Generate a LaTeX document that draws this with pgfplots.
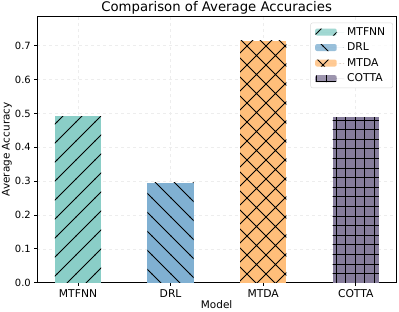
\documentclass[border=0pt]{standalone}
\usepackage{pgfplots}
\pgfplotsset{compat=1.18}
\usepackage{fontspec}
\setmainfont{DejaVu Sans}
\usetikzlibrary{patterns}

\definecolor{cA}{RGB}{138,206,199}
\definecolor{cB}{RGB}{128,176,210}
\definecolor{cC}{RGB}{255,190,122}
\definecolor{cD}{RGB}{133,124,155}

\pgfdeclarepatternformonly{hatchNE}{\pgfqpoint{-1bp}{-1bp}}{\pgfqpoint{20bp}{20bp}}{\pgfqpoint{19bp}{19bp}}{%
  \pgfsetlinewidth{0.8bp}%
  \pgfpathmoveto{\pgfqpoint{-0.5bp}{-0.5bp}}\pgfpathlineto{\pgfqpoint{19.5bp}{19.5bp}}\pgfusepath{stroke}}
\pgfdeclarepatternformonly{hatchNW}{\pgfqpoint{-1bp}{-1bp}}{\pgfqpoint{20bp}{20bp}}{\pgfqpoint{19bp}{19bp}}{%
  \pgfsetlinewidth{0.8bp}%
  \pgfpathmoveto{\pgfqpoint{-0.5bp}{19.5bp}}\pgfpathlineto{\pgfqpoint{19.5bp}{-0.5bp}}\pgfusepath{stroke}}
\pgfdeclarepatternformonly{hatchX}{\pgfqpoint{-1bp}{-1bp}}{\pgfqpoint{20bp}{20bp}}{\pgfqpoint{19bp}{19bp}}{%
  \pgfsetlinewidth{0.8bp}%
  \pgfpathmoveto{\pgfqpoint{-0.5bp}{-0.5bp}}\pgfpathlineto{\pgfqpoint{19.5bp}{19.5bp}}%
  \pgfpathmoveto{\pgfqpoint{-0.5bp}{19.5bp}}\pgfpathlineto{\pgfqpoint{19.5bp}{-0.5bp}}\pgfusepath{stroke}}
\pgfdeclarepatternformonly{hatchPlus}{\pgfqpoint{-1bp}{-1bp}}{\pgfqpoint{10.6bp}{10.6bp}}{\pgfqpoint{9.6bp}{9.6bp}}{%
  \pgfsetlinewidth{0.8bp}%
  \pgfpathmoveto{\pgfqpoint{-0.5bp}{0bp}}\pgfpathlineto{\pgfqpoint{10.1bp}{0bp}}%
  \pgfpathmoveto{\pgfqpoint{0bp}{-0.5bp}}\pgfpathlineto{\pgfqpoint{0bp}{10.1bp}}\pgfusepath{stroke}}

\begin{document}
\begin{tikzpicture}
\begin{axis}[
  at={(0,0)}, anchor=south west,
  scale only axis, width=358.7bp, height=266.7bp,
  ybar, bar width=0.5, bar shift=0pt,
  xmin=-0.44, xmax=3.435, ymin=0, ymax=0.7877,
  xtick={0,1,2,3}, xticklabels={MTFNN,DRL,MTDA,COTTA},
  ytick={0,0.1,...,0.71},
  yticklabel style={/pgf/number format/fixed,/pgf/number format/precision=1,/pgf/number format/fixed zerofill, font=\fontsize{10}{12}\selectfont},
  xticklabel style={font=\fontsize{10.8}{12}\selectfont},
  /pgf/number format/assume math mode=true,
  tick label style={text=black},
  label style={font=\fontsize{10.5}{12}\selectfont},
  every axis title shift=0pt,
  title style={font=\fontsize{13.3}{15}\selectfont, at={(axis description cs:0.5,1.03)}, anchor=center},
  title={Comparison of Average Accuracies},
  xlabel={Model}, ylabel={Average Accuracy},
  xlabel style={at={(axis description cs:0.5,-0.0836)}, anchor=center},
  ylabel style={at={(axis description cs:-0.0845,0.5)}, anchor=center, rotate=0},
  tick align=outside, xtick pos=bottom, ytick pos=left,
  major tick length=3bp,
  tick style={black, line width=0.7bp},
  axis line style={black, line width=0.7bp},
  grid=major, grid style={dashed, gray!14, line width=0.6bp},
  legend style={at={(0.9916,0.975)}, anchor=north east, draw=gray!30, rounded corners=2bp,
    fill=white, fill opacity=0.8, text opacity=1, font=\fontsize{10.8}{12}\selectfont,
    row sep=2.2bp, inner xsep=4.5bp, inner ysep=2.5bp,
    nodes={inner xsep=3bp}},
  legend cell align=left,
  legend image code/.code={\path[#1, draw=none] (0bp,-3.5bp) rectangle (21.6bp,3.5bp); \path (0bp,0bp) -- (29bp,0bp);},
]
\addplot[fill=cA, draw=none, postaction={pattern=hatchNE}] coordinates {(0,0.4914)};
\addlegendentry{MTFNN}
\addplot[fill=cB, draw=none, postaction={pattern=hatchNW}] coordinates {(1,0.2953)};
\addlegendentry{DRL}
\addplot[fill=cC, draw=none, postaction={pattern=hatchX}] coordinates {(2,0.7147)};
\addlegendentry{MTDA}
\addplot[fill=cD, draw=none, postaction={pattern=hatchPlus}] coordinates {(3,0.4885)};
\addlegendentry{COTTA}
\end{axis}
\pgfresetboundingbox
\useasboundingbox (-37.3bp,-29.3bp) rectangle (361.7bp,282.7bp);
\end{tikzpicture}
\end{document}
